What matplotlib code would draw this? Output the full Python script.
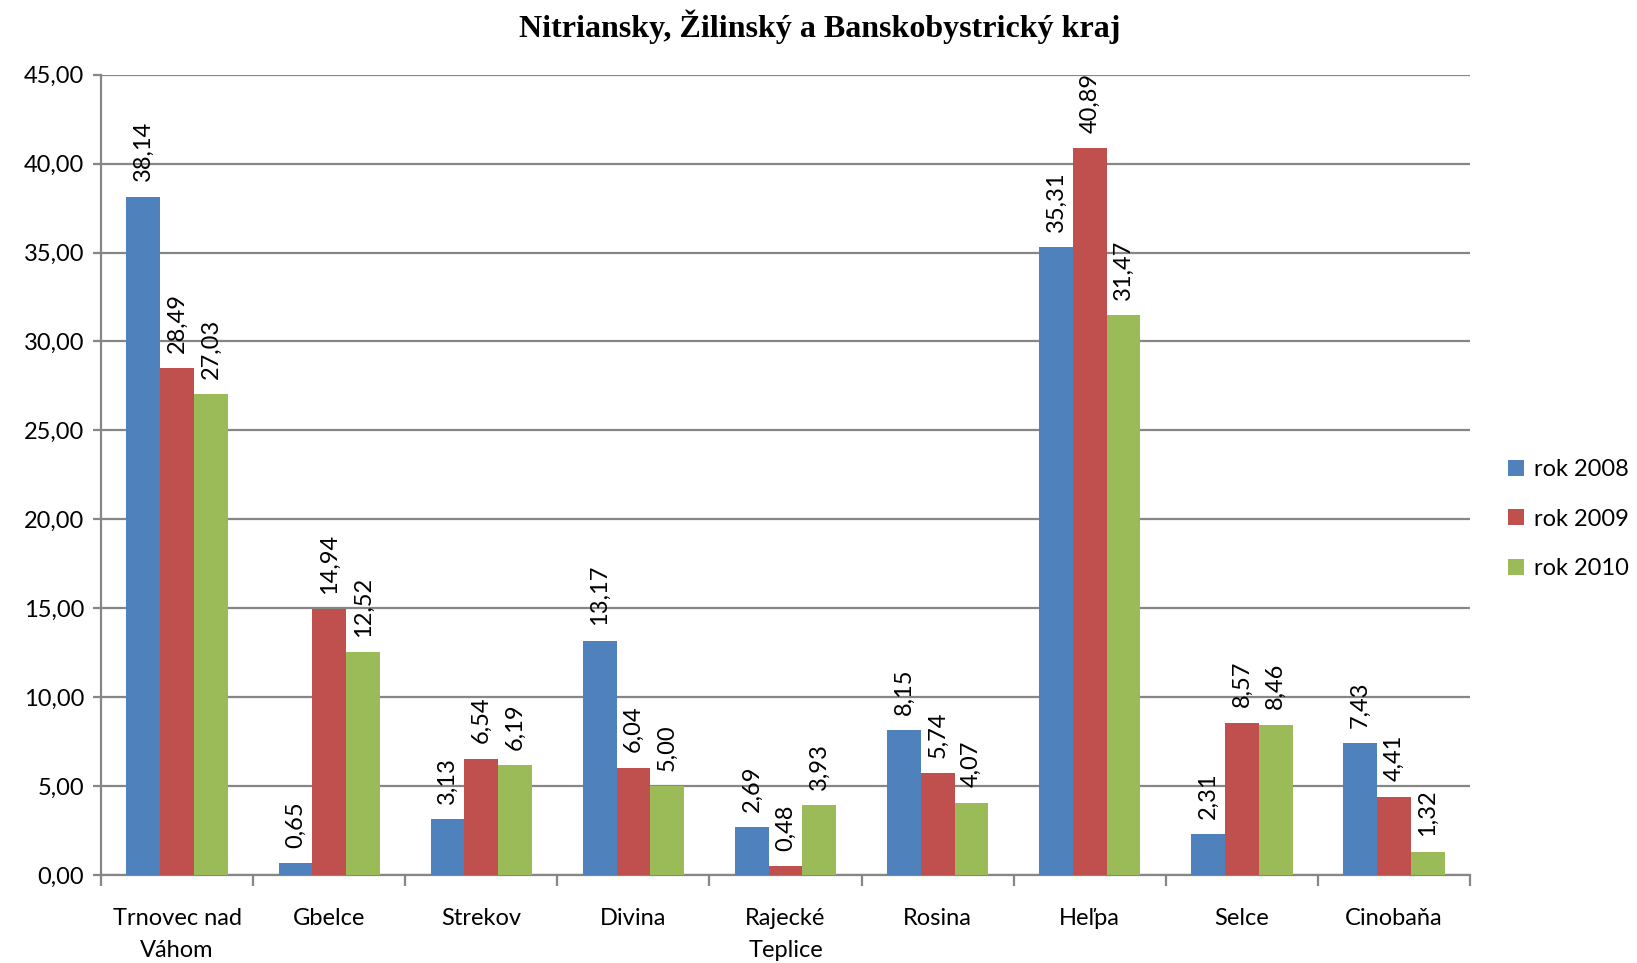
import matplotlib
matplotlib.use("Agg")
import matplotlib.pyplot as plt
import numpy as np
from matplotlib.ticker import FuncFormatter, FixedLocator

categories = ["Trnovec nad\nVáhom", "Gbelce", "Strekov", "Divina", "Rajecké\nTeplice",
              "Rosina", "Heľpa", "Selce", "Cinobaňa"]
rok_2008 = [38.14, 0.65, 3.13, 13.17, 2.69, 8.15, 35.31, 2.31, 7.43]
rok_2009 = [28.49, 14.94, 6.54, 6.04, 0.48, 5.74, 40.89, 8.57, 4.41]
rok_2010 = [27.03, 12.52, 6.19, 5.00, 3.93, 4.07, 31.47, 8.46, 1.32]
series_names = ["rok 2008", "rok 2009", "rok 2010"]
colors = ["#4F81BD", "#C0504D", "#9BBB59"]

plt.rcParams['font.family'] = ['Lato', 'DejaVu Sans']

fig = plt.figure(figsize=(16.37, 9.63), dpi=100)
ax = fig.add_axes([0.0617, 0.0914, 0.8363, 0.831])

x = np.arange(len(categories))
w = 0.222
grid_col = "#868686"

def fmt(v):
    return f"{v:.2f}".replace(".", ",")

for i, (vals, name, c) in enumerate(zip([rok_2008, rok_2009, rok_2010], series_names, colors)):
    pos = x + (i - 1) * w
    ax.bar(pos, vals, width=w, color=c, label=name, zorder=3)
    for px, v in zip(pos, vals):
        ax.annotate(fmt(v), (px, v), xytext=(0, 11), textcoords="offset points",
                    rotation=90, ha="center", va="bottom", fontsize=17, color="black")

ax.set_xlim(-0.5, len(categories) - 0.5)
ax.set_ylim(0, 45)
ax.set_yticks(np.arange(0, 46, 5))
ax.yaxis.set_major_formatter(FuncFormatter(lambda v, p: fmt(v)))
ax.grid(axis="y", color=grid_col, linewidth=1.6, zorder=0)
ax.set_axisbelow(True)

ax.set_xticks(x)
ax.set_xticklabels(categories, fontsize=17, linespacing=1.6)
ax.xaxis.set_minor_locator(FixedLocator(np.arange(-0.5, len(categories), 1.0)))
ax.tick_params(axis="x", which="major", length=0, pad=24)
ax.tick_params(axis="x", which="minor", length=8, width=1.6, color=grid_col)
ax.tick_params(axis="y", length=6, width=1.6, color=grid_col, labelsize=17, pad=6)

for s in ["top", "right"]:
    ax.spines[s].set_visible(False)
for s in ["left", "bottom"]:
    ax.spines[s].set_color(grid_col)
    ax.spines[s].set_linewidth(1.6)

fig.text(0.501, 0.972, "Nitriansky, Žilinský a Banskobystrický kraj",
         ha="center", va="center", fontsize=23, fontweight="bold",
         family=["Liberation Serif", "DejaVu Serif"])

fig.legend(loc="center left", bbox_to_anchor=(0.9155, 0.461), frameon=False,
           fontsize=17, handlelength=0.68, handleheight=0.68, handletextpad=0.4,
           labelspacing=1.2, borderaxespad=0)

fig.savefig("out.png", dpi=100)
